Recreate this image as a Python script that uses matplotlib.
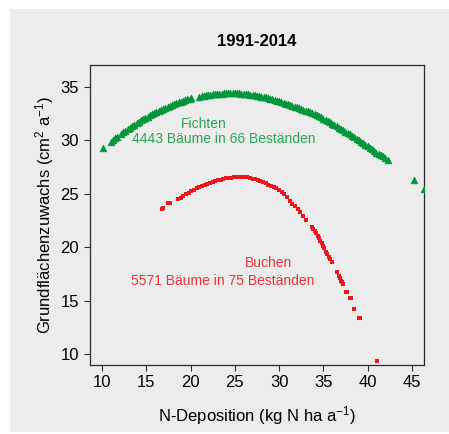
import matplotlib
matplotlib.use("Agg")
import matplotlib.pyplot as plt
from matplotlib.patches import Rectangle

plt.rcParams['font.family'] = ['Liberation Sans', 'DejaVu Sans']
plt.rcParams['mathtext.fontset'] = 'custom'
plt.rcParams['mathtext.rm'] = 'Liberation Sans'
plt.rcParams['mathtext.it'] = 'Liberation Sans:italic'
plt.rcParams['mathtext.bf'] = 'Liberation Sans:bold'

# ---------------- data ----------------
fichten_x = [10.15, 11.0, 11.25, 11.5, 11.75,
             12.15, 12.4, 12.65, 12.9, 13.15, 13.4, 13.65, 13.9, 14.15, 14.4, 14.65, 14.9,
             15.15, 15.4, 15.65, 15.9, 16.15, 16.4, 16.65, 16.9, 17.15, 17.4, 17.65, 17.9,
             18.15, 18.4, 18.65, 18.9, 19.15, 19.4, 19.65, 19.9, 20.1,
             21.0, 21.25, 21.5, 21.75, 22.0, 22.25, 22.5, 22.75, 23.0, 23.25, 23.5, 23.75,
             24.0, 24.25, 24.5, 24.75, 25.0, 25.25, 25.5, 25.75, 26.0, 26.25, 26.5, 26.75,
             27.0, 27.25, 27.5, 27.75, 28.0, 28.25, 28.5, 28.75, 29.0, 29.25, 29.5, 29.75,
             30.0, 30.25, 30.5, 30.75, 31.0, 31.25, 31.5, 31.75, 32.0, 32.25, 32.5, 32.75,
             33.0, 33.25, 33.5, 33.75, 34.0, 34.25, 34.5, 34.75, 35.0, 35.25, 35.5, 35.75,
             36.0, 36.25, 36.5, 36.75, 37.0, 37.25, 37.5, 37.75, 38.0, 38.25, 38.5, 38.75,
             39.0, 39.25, 39.5, 39.75, 40.0, 40.25, 40.5, 40.75, 41.0, 41.25, 41.5, 41.75,
             42.0, 42.3, 45.27, 46.4]
fichten_y = [29.26, 29.87, 30.03, 30.20, 30.36,
             30.61, 30.76, 30.91, 31.06, 31.20, 31.34, 31.48, 31.61, 31.74, 31.87, 31.99, 32.12,
             32.23, 32.35, 32.46, 32.57, 32.68, 32.78, 32.88, 32.98, 33.07, 33.16, 33.25, 33.33,
             33.41, 33.49, 33.56, 33.64, 33.70, 33.77, 33.83, 33.89, 33.94,
             34.11, 34.16, 34.20, 34.23, 34.26, 34.29, 34.32, 34.34, 34.36, 34.38, 34.39, 34.41,
             34.41, 34.42, 34.42, 34.42, 34.41, 34.41, 34.40, 34.38, 34.36, 34.34, 34.32, 34.29,
             34.26, 34.23, 34.20, 34.16, 34.11, 34.07, 34.02, 33.97, 33.91, 33.86, 33.80, 33.73,
             33.66, 33.59, 33.52, 33.45, 33.38, 33.31, 33.24, 33.17, 33.10, 33.02, 32.95, 32.87,
             32.79, 32.71, 32.64, 32.55, 32.47, 32.38, 32.27, 32.16, 32.05, 31.94, 31.82, 31.70,
             31.58, 31.45, 31.32, 31.19, 31.08, 30.96, 30.82, 30.70, 30.56, 30.43, 30.28, 30.16,
             30.00, 29.87, 29.72, 29.58, 29.45, 29.29, 29.15, 28.98, 28.84, 28.72, 28.61, 28.50,
             28.36, 28.18, 26.30, 25.45]

buchen_x = [16.74, 16.9, 17.5, 17.7, 18.6, 18.9,
            19.2, 19.5, 19.8, 20.1, 20.4, 20.7, 21.0, 21.3, 21.6, 21.9, 22.2, 22.5, 22.8,
            23.1, 23.4, 23.7, 24.0, 24.3, 24.6, 24.9, 25.2, 25.5, 25.8, 26.1, 26.4, 26.7,
            27.0, 27.3, 27.6, 27.9, 28.2, 28.5, 28.8, 29.1, 29.4, 29.7, 30.0, 30.3, 30.6,
            30.9, 31.2, 31.5, 31.8, 32.1, 32.4, 32.7, 33.0,
            33.7, 33.85, 34.0, 34.2, 34.35, 34.5, 34.65, 34.8, 34.95, 35.1, 35.3, 35.45,
            35.6, 35.75, 35.93, 36.57, 36.75, 36.87, 37.0, 37.06, 37.25, 37.6, 37.68,
            38.0, 38.08, 38.49, 39.02, 39.1, 41.08]
buchen_y = [23.58, 23.66, 24.10, 24.12, 24.48, 24.62,
            24.80, 24.95, 25.10, 25.24, 25.38, 25.51, 25.64, 25.76, 25.86, 25.96, 26.05, 26.13, 26.20,
            26.27, 26.33, 26.39, 26.44, 26.48, 26.52, 26.55, 26.57, 26.58, 26.58, 26.56, 26.53, 26.48,
            26.42, 26.35, 26.28, 26.18, 26.08, 25.98, 25.87, 25.76, 25.64, 25.51, 25.36, 25.19, 24.98,
            24.70, 24.37, 24.07, 23.82, 23.55, 23.25, 22.90, 22.55,
            21.90, 21.72, 21.55, 21.30, 21.05, 20.82, 20.58, 20.36, 20.12, 19.88, 19.58, 19.35,
            19.10, 18.88, 18.65, 17.68, 17.35, 17.09, 16.88, 16.77, 16.55, 15.78, 15.76,
            15.21, 15.20, 14.18, 13.34, 13.34, 9.34]

x_ticks = [10, 15, 20, 25, 30, 35, 40, 45]
y_ticks = [10, 15, 20, 25, 30, 35]

title = "1991-2014"
xlabel = r"N-Deposition (kg N ha a$^{\mathrm{-1}}$)"
ylabel = r"Grundflächenzuwachs (cm$^{\mathrm{2}}$ a$^{\mathrm{-1}}$)"

# ---------------- styling ----------------
BG = '#ececec'
GREEN = '#009639'
GREEN_TXT = '#2aa551'
RED = '#e6191f'
RED_TXT = '#e5333b'
SPINE = '#2b2b2b'

W, H = 449, 434
fig = plt.figure(figsize=(W / 100, H / 100), dpi=100, facecolor='white')
bg = Rectangle((10 / W, 2 / H), 1 - 10 / W, 1 - 11 / H,
               transform=fig.transFigure, facecolor=BG, edgecolor='none')
bg.set_zorder(-10)
fig.add_artist(bg)

left, right, top, bottom = 89.5, 424.3, 65, 365
ax = fig.add_axes([left / W, 1 - bottom / H, (right - left) / W, (bottom - top) / H])
ax.set_zorder(1)
ax.set_facecolor(BG)

ax.scatter(fichten_x, fichten_y, marker='^', s=22, color=GREEN, linewidths=0.6,
           edgecolors=GREEN, zorder=3)
ax.scatter(buchen_x, buchen_y, marker='s', s=10, color=RED, linewidths=0, zorder=3)

ax.set_xlim(8.59, 46.4)
ax.set_ylim(8.97, 37.06)
ax.set_xticks(x_ticks)
ax.set_yticks(y_ticks)
ax.tick_params(direction='out', length=4.5, width=0.8, color=SPINE,
               labelsize=12, pad=3)
for sp in ax.spines.values():
    sp.set_linewidth(0.9)
    sp.set_color(SPINE)

ax.set_xlabel(xlabel, fontsize=12, labelpad=10)
ax.set_ylabel(ylabel, fontsize=12, labelpad=3.5)
fig.text(257 / W, 1 - 42 / H, title, ha='center', va='center',
         fontsize=12, fontweight='bold')

ax.text(21.52, 31.54, "Fichten", color=GREEN_TXT, fontsize=10, ha='center', va='center')
ax.text(23.72, 30.1, "4443 Bäume in 66 Beständen", color=GREEN_TXT, fontsize=10,
        ha='center', va='center')
ax.text(28.8, 18.49, "Buchen", color=RED_TXT, fontsize=10, ha='center', va='center')
ax.text(23.6, 16.84, "5571 Bäume in 75 Beständen", color=RED_TXT, fontsize=10,
        ha='center', va='center')

fig.savefig('out.png', dpi=100, facecolor='white')
